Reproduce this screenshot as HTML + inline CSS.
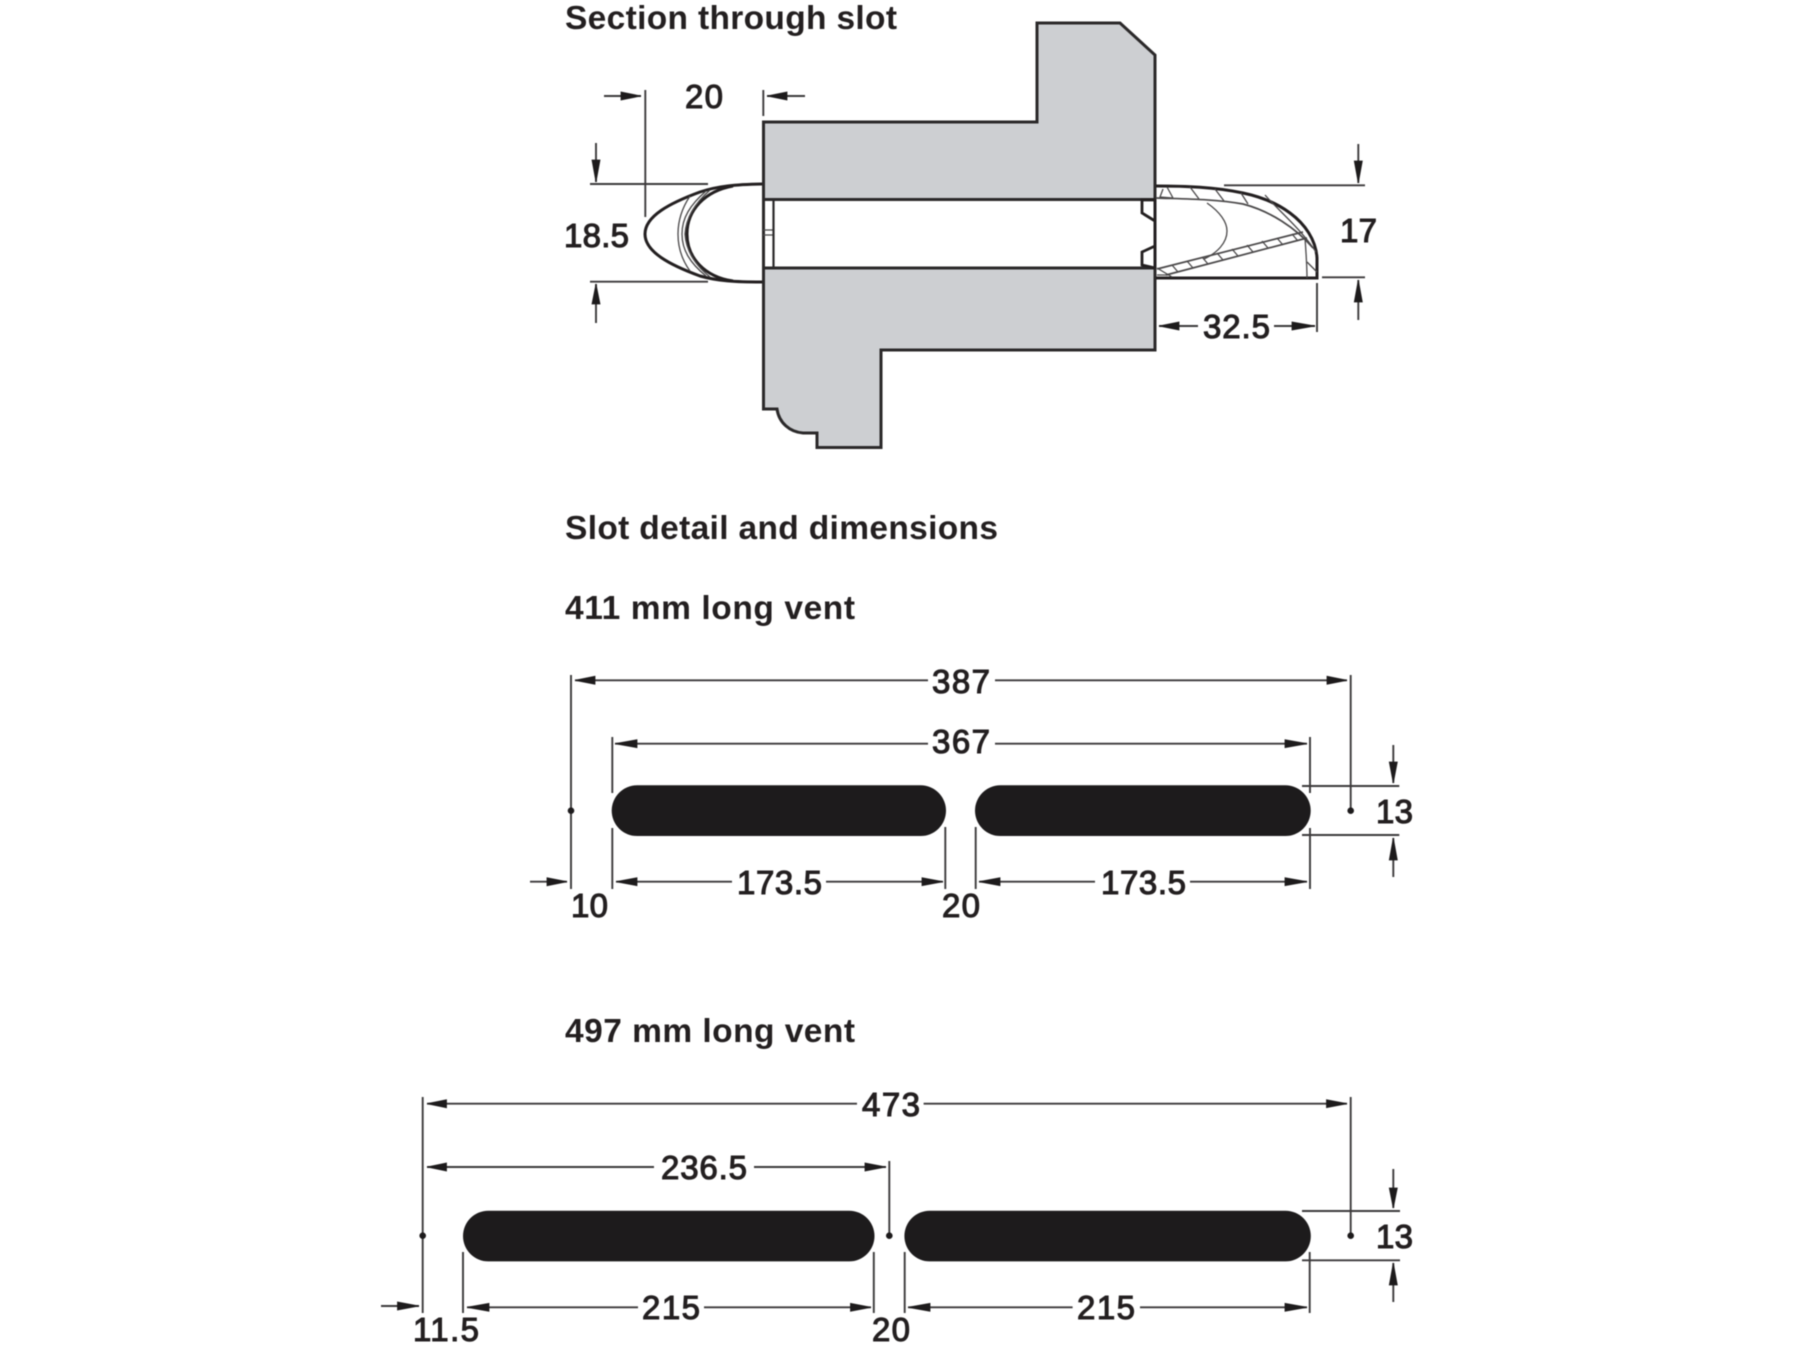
<!DOCTYPE html>
<html><head><meta charset="utf-8"><title>Section through slot</title>
<style>
html,body{margin:0;padding:0;background:#fff}
svg{display:block;filter:blur(.4px)}
text{font-family:"Liberation Sans",Arial,sans-serif;fill:#231f20}
.h{font-size:33.500px;font-weight:700}
.d{font-size:33px;font-weight:400;stroke:#231f20;stroke-width:1.1px}
.dim{stroke:#3c3a3b;stroke-width:1.9;fill:none}
.ar{fill:#1d1b1c;stroke:#1d1b1c;stroke-width:.8}
.wall{fill:#cdcfd2;stroke:#2b292a;stroke-width:3;stroke-linejoin:miter}
.heavy{fill:none;stroke:#231f20;stroke-width:3}
.thin{fill:none;stroke:#4a4849;stroke-width:1.3}
</style></head><body>
<svg width="1800" height="1350" viewBox="0 0 1800 1350" xmlns="http://www.w3.org/2000/svg">
<rect width="1800" height="1350" fill="#fff"/>

<!-- headings -->
<text class="h" x="565" y="29" textLength="332" lengthAdjust="spacing">Section through slot</text>
<text class="h" x="565" y="539" textLength="433" lengthAdjust="spacing">Slot detail and dimensions</text>
<text class="h" x="565" y="619" textLength="290" lengthAdjust="spacing">411 mm long vent</text>
<text class="h" x="565" y="1042" textLength="290" lengthAdjust="spacing">497 mm long vent</text>

<!-- section walls -->
<path class="wall" d="M763.500 122H1037V23H1120L1155 55V199.500H763.500Z"/>
<path class="wall" d="M763.500 268H1155V350H881V447.500H817V433H803C790 432 779 423 777 409H763.500Z"/>

<!-- slot inner left -->
<path d="M763.500 199.500V268" fill="none" stroke="#2b292a" stroke-width="3"/>
<path class="thin" d="M763 230H773M763 235H773" />
<path d="M773.500 199.500V268" fill="none" stroke="#2b292a" stroke-width="2.200"/>
<!-- slot clip right -->
<path d="M1155 199V268" fill="none" stroke="#231f20" stroke-width="3"/>
<path d="M1155 200H1142V213L1155 221M1155 246L1142 252V265L1155 268" fill="none" stroke="#231f20" stroke-width="2.800"/>

<!-- left cap -->
<path class="heavy" d="M762 184C735 184.500 718 186 700 192C670 203 645 216 645 234C645 252 670 265 700 276C718 281 735 282 762 282"/>
<path class="heavy" d="M733 186C705 191 687 210 687 234C687 258 705 277 733 281"/>
<path class="thin" d="M690 196C682 208 678 220 678 234C678 248 682 260 690 271"/>
<path class="thin" d="M706 191C690 205 682 218 682 234C682 250 690 263 706 276"/>
<path class="thin" d="M710 190C694 204 686 218 685 234C686 250 694 264 710 277"/>

<!-- right cap -->
<path class="heavy" d="M1156 186C1185 186 1215 187 1243 193C1262 197 1278 204 1290 213C1305 224 1316 240 1317 258V278H1156"/>
<path class="thin" style="stroke-width:1.700" d="M1156 198C1185 199 1215 199 1243 204C1270 211 1296 228 1313 248"/>
<path class="thin" d="M1265 195C1280 212 1300 228 1316 252"/>
<path class="thin" style="stroke-width:1.700" d="M1157 269L1303 232M1166 275L1307 238"/>
<path class="thin" d="M1207 203C1220 212 1227 222 1227 231C1227 243 1217 253 1204 259"/>
<path class="thin" d="M1305 238C1306 252 1307 265 1307 278"/>
<path class="thin" d="M1307 262L1317 272"/>
<path class="thin" d="M1167 187L1173 198M1190 187L1199 199M1215 189L1224 201M1241 193L1248 204M1163 189L1160 197L1173 198"/>
<path class="thin" d="M1172 265L1178 272M1187 261L1193 268M1202 257L1208 264M1217 253L1223 260M1232 249L1238 256M1247 245L1253 252M1262 241L1268 248M1277 238L1283 245M1292 234L1298 241M1157 268L1172 277M1157 275H1170"/>

<!-- section dims -->
<g class="dim">
<path d="M645.300 90V217M604 96H641M763.300 90V116M767 96H805"/>
<path d="M590 184H708M590 281.700H708M596 143V182M596 284V323"/>
<path d="M1224 185.300H1365M1322 277.300H1365M1358.300 144V183M1358.300 280V320"/>
<path d="M1159 326H1198M1274 326H1315M1317 283V332"/>
</g>
<path class="ar" d="M641 96L621 92V100ZM767 96L787 92V100ZM596 182L592 160H600ZM596 284L592 304H600ZM1358.300 183L1354.300 161H1362.300ZM1358.300 280L1354.300 302H1362.300ZM1159 326L1179 322V330ZM1315 326L1292 322V330Z"/>
<text class="d" x="685" y="108" textLength="38" lengthAdjust="spacing">20</text>
<text class="d" x="564" y="247" textLength="65" lengthAdjust="spacing">18.5</text>
<text class="d" x="1340" y="242" textLength="37" lengthAdjust="spacing">17</text>
<text class="d" x="1203" y="338" textLength="67" lengthAdjust="spacing">32.5</text>

<!-- 411 vent -->
<rect x="611.700" y="785.300" width="334.300" height="50.700" rx="25.350" fill="#1d1b1c"/>
<rect x="975" y="785.300" width="335.700" height="50.700" rx="25.350" fill="#1d1b1c"/>
<g class="dim">
<path d="M571 675V889M575 680.300H928M995 680.300H1347M1350.700 675V810"/>
<path d="M612.300 737V793M612.300 828V889M615 743.700H928M995 743.700H1307M1310 737V793M1310 828V889"/>
<path d="M945.300 827V889M975.700 827V889M616 881.700H732M826 881.700H943M979 881.700H1095M1190 881.700H1307M530 881.700H567"/>
<path d="M1302 786H1399.300M1302 835H1399.300M1393.300 745V783M1393.300 838V877"/>
</g>
<path class="ar" d="M575 680.300L595 676.300V684.300ZM1347 680.300L1327 676.300V684.300ZM615 743.700L637 739.700V747.700ZM1307 743.700L1285 739.700V747.700ZM616 881.700L637 877.700V885.700ZM943 881.700L922 877.700V885.700ZM979 881.700L1000 877.700V885.700ZM1307 881.700L1285 877.700V885.700ZM567 881.700L547 877.700V885.700ZM1393.300 783L1389.300 762H1397.300ZM1393.300 838L1389.300 860H1397.300Z"/>
<circle cx="571" cy="810.700" r="3.300" fill="#1d1b1c"/>
<circle cx="1350.700" cy="810.700" r="3.300" fill="#1d1b1c"/>
<text class="d" x="932" y="693" textLength="58" lengthAdjust="spacing">387</text>
<text class="d" x="932" y="753" textLength="58" lengthAdjust="spacing">367</text>
<text class="d" x="737" y="894" textLength="85" lengthAdjust="spacing">173.5</text>
<text class="d" x="1101" y="894" textLength="85" lengthAdjust="spacing">173.5</text>
<text class="d" x="571" y="917" textLength="37" lengthAdjust="spacing">10</text>
<text class="d" x="942" y="917" textLength="38" lengthAdjust="spacing">20</text>
<text class="d" x="1376" y="823" textLength="37" lengthAdjust="spacing">13</text>

<!-- 497 vent -->
<rect x="463" y="1210.700" width="411.500" height="50.700" rx="25.350" fill="#1d1b1c"/>
<rect x="904.400" y="1210.700" width="406.400" height="50.700" rx="25.350" fill="#1d1b1c"/>
<g class="dim">
<path d="M422.700 1097V1313M427 1103.700H857M923.600 1103.700H1347M1350.700 1097V1235"/>
<path d="M427 1167H654M754 1167H886M889.300 1161V1235"/>
<path d="M463 1252V1313M873.800 1252V1313M904.700 1252V1313M1309.700 1252V1313"/>
<path d="M467 1307.300H638M704 1307.300H871M908 1307.300H1072.600M1140 1307.300H1307M381 1306H419"/>
<path d="M1302 1211H1400M1302 1260.300H1400M1393.300 1169V1208M1393.300 1263V1302"/>
</g>
<path class="ar" d="M427 1103.700L446.500 1099.700V1107.700ZM1347 1103.700L1326.500 1099.700V1107.700ZM427 1167L446.500 1163V1171ZM886 1167L865 1163V1171ZM467 1307.300L489 1303.300V1311.300ZM871 1307.300L850.500 1303.300V1311.300ZM908 1307.300L930 1303.300V1311.300ZM1307 1307.300L1285 1303.300V1311.300ZM419 1306L397.500 1302V1310ZM1393.300 1208L1389.300 1188H1397.300ZM1393.300 1263L1389.300 1285H1397.300Z"/>
<circle cx="422.700" cy="1235.700" r="3.300" fill="#1d1b1c"/>
<circle cx="889.300" cy="1235.700" r="3.300" fill="#1d1b1c"/>
<circle cx="1350.700" cy="1235.700" r="3.300" fill="#1d1b1c"/>
<text class="d" x="862" y="1116" textLength="58" lengthAdjust="spacing">473</text>
<text class="d" x="661" y="1179" textLength="86" lengthAdjust="spacing">236.5</text>
<text class="d" x="642" y="1319" textLength="58" lengthAdjust="spacing">215</text>
<text class="d" x="1077" y="1319" textLength="58" lengthAdjust="spacing">215</text>
<text class="d" x="413" y="1341" textLength="66" lengthAdjust="spacing">11.5</text>
<text class="d" x="872" y="1341" textLength="38" lengthAdjust="spacing">20</text>
<text class="d" x="1376" y="1248" textLength="37" lengthAdjust="spacing">13</text>
</svg>
</body></html>
